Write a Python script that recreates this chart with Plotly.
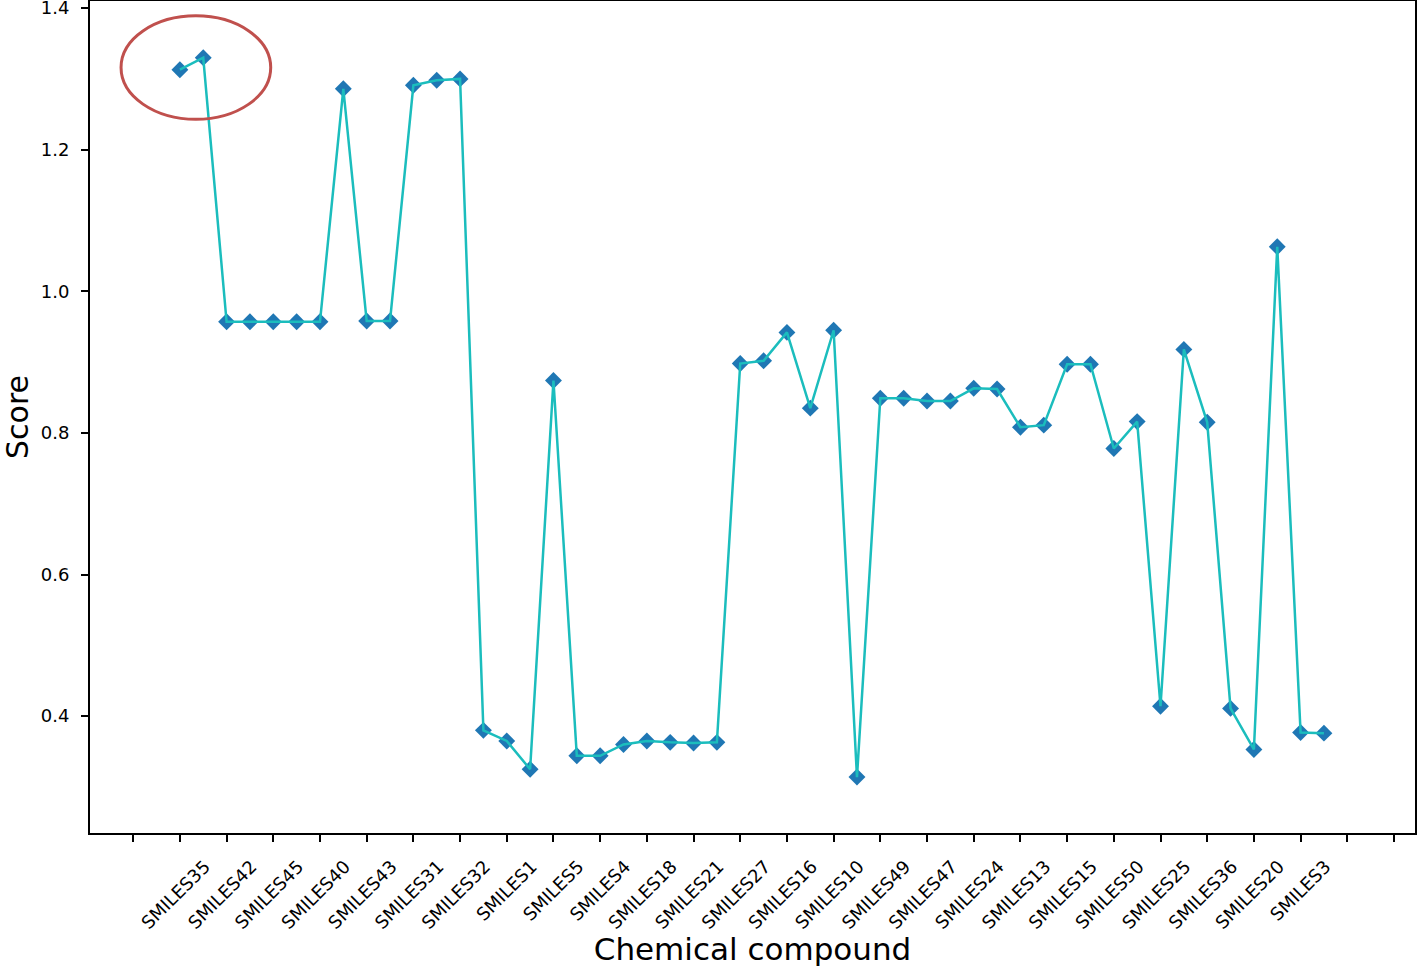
import plotly.graph_objects as go

# data
shown_labels = ["SMILES35", "SMILES42", "SMILES45", "SMILES40", "SMILES43", "SMILES31",
                "SMILES32", "SMILES1", "SMILES5", "SMILES4", "SMILES18", "SMILES21",
                "SMILES27", "SMILES16", "SMILES10", "SMILES49", "SMILES47", "SMILES24",
                "SMILES13", "SMILES15", "SMILES50", "SMILES25", "SMILES36", "SMILES20",
                "SMILES3"]
scores = [1.313, 1.330, 0.957, 0.957, 0.957, 0.957, 0.957, 1.286, 0.958, 0.958,
          1.291, 1.298, 1.300, 0.380, 0.365, 0.325, 0.874, 0.344, 0.344, 0.360,
          0.365, 0.363, 0.362, 0.363, 0.898, 0.902, 0.942, 0.835, 0.945, 0.314,
          0.849, 0.849, 0.845, 0.845, 0.863, 0.862, 0.808, 0.811, 0.897, 0.897,
          0.778, 0.816, 0.414, 0.918, 0.815, 0.411, 0.353, 1.063, 0.377, 0.376]
x_idx = list(range(len(scores)))

tickvals = [-2] + [2 * i for i in range(len(shown_labels))] + [50, 52]
ticktext = [""] + shown_labels + ["", ""]
y_ticks = [0.4, 0.6, 0.8, 1.0, 1.2, 1.4]
y_ticktext = ["0.4", "0.6", "0.8", "1.0", "1.2", "1.4"]

font_family = "DejaVu Sans"

fig = go.Figure()
fig.add_trace(go.Scatter(x=x_idx, y=scores, mode="markers",
                         marker=dict(symbol="diamond", size=13, color="#1f77b4"),
                         showlegend=False))
fig.add_trace(go.Scatter(x=x_idx, y=scores, mode="lines",
                         line=dict(color="#1bbdbd", width=2.5),
                         showlegend=False))

fig.add_shape(type="circle", xref="x", yref="y",
              x0=-2.52, x1=3.89, y0=1.243, y1=1.389,
              line=dict(color="#c0504d", width=3))

fig.update_layout(
    width=1423, height=967,
    margin=dict(l=90, r=8, t=1, b=134),
    plot_bgcolor="white", paper_bgcolor="white",
    font=dict(family=font_family, color="black"),
    xaxis=dict(range=[-3.85, 52.9], tickmode="array", tickvals=tickvals,
               ticktext=ticktext, tickangle=-45, showgrid=False, zeroline=False,
               showline=True, linecolor="black", linewidth=2, mirror=True,
               ticks="outside", ticklen=7, tickwidth=1.5, tickcolor="black",
               tickfont=dict(size=18), ticklabelshift=25, ticklabelstandoff=7,
               automargin=False, ticklabeloverflow="allow",
               title=dict(text="Chemical compound", font=dict(size=31), standoff=4)),
    yaxis=dict(range=[0.235, 1.410], tickvals=y_ticks, ticktext=y_ticktext,
               showgrid=False, zeroline=False,
               showline=True, linecolor="black", linewidth=2, mirror=True,
               ticks="outside", ticklen=7, tickwidth=1.5, tickcolor="black",
               tickfont=dict(size=18), ticklabelstandoff=8,
               automargin=False, ticklabeloverflow="allow",
               title=dict(text="Score", font=dict(size=30), standoff=19)),
)

fig.write_html("out.html", config={"displayModeBar": False},
               post_script="document.body.style.margin='0px';")
